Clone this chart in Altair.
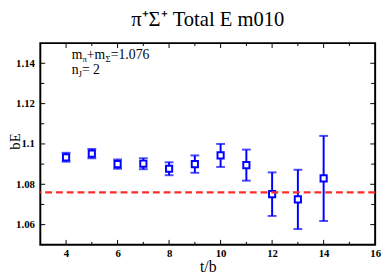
import altair as alt
import pandas as pd

# ---- data ----
t_vals = [4, 5, 6, 7, 8, 9, 10, 11, 12, 13, 14]
bE_vals = [1.0934, 1.0952, 1.0900, 1.0902, 1.0877, 1.0900, 1.0943, 1.0895, 1.0751, 1.0725, 1.0829]
bE_err = [0.0022, 0.0023, 0.0023, 0.0027, 0.0032, 0.0043, 0.0057, 0.0077, 0.0108, 0.0147, 0.0211]
mass_sum = 1.076

x_major = [4, 6, 8, 10, 12, 14]
x_minor = [5, 7, 9, 11, 13, 15]
x_labels = [4, 6, 8, 10, 12, 14, 16]
y_major = [1.06, 1.08, 1.10, 1.12, 1.14]
y_minor = [1.07, 1.09, 1.11, 1.13]

W, H = 342, 206
BLUE = "#0000ff"
SERIF = "Liberation Serif"

df = pd.DataFrame({"t": t_vals, "bE": bE_vals, "err": bE_err})
df["lo"] = df["bE"] - df["err"]
df["hi"] = df["bE"] + df["err"]

xscale = alt.Scale(domain=[3, 16], nice=False, zero=False)
yscale = alt.Scale(domain=[1.05, 1.15], nice=False, zero=False)

xaxis = alt.Axis(values=x_labels, title="t/b", grid=False, ticks=False, domain=False,
                 labelFont=SERIF, labelFontWeight="bold", labelFontSize=11, labelColor="black",
                 labelPadding=3, labelFlush=False, titleFont=SERIF, titleFontWeight="normal",
                 titleFontSize=16, titleColor="black", titlePadding=0)
yaxis = alt.Axis(values=y_major, title="bE", grid=False, ticks=False, domain=False, format=".3~g",
                 labelFont=SERIF, labelFontWeight="bold", labelFontSize=11, labelColor="black",
                 labelPadding=6, labelFlush=False, titleFont=SERIF, titleFontWeight="normal",
                 titleFontSize=15, titleColor="black", titleX=-21, titleY=100,
                 titleBaseline="alphabetic", titleAngle=270, titleAlign="center")

X = lambda f: alt.X(f, scale=xscale, axis=xaxis)
Y = lambda f: alt.Y(f, scale=yscale, axis=yaxis)

base = alt.Chart(df)

err_lines = base.mark_rule(color=BLUE, strokeWidth=2).encode(
    x=X("t:Q"), y=Y("lo:Q"), y2="hi:Q")
cap_lo = base.mark_tick(color=BLUE, thickness=2, size=9, orient="horizontal").encode(
    x=X("t:Q"), y=Y("lo:Q"))
cap_hi = base.mark_tick(color=BLUE, thickness=2, size=9, orient="horizontal").encode(
    x=X("t:Q"), y=Y("hi:Q"))
points = base.mark_point(shape="square", size=40, filled=False, fill="white", fillOpacity=1,
                         stroke=BLUE, strokeWidth=2, opacity=1).encode(
    x=X("t:Q"), y=Y("bE:Q"))

ref_line = alt.Chart(pd.DataFrame({"y": [mass_sum]})).mark_rule(
    color="#ff2a2a", strokeDash=[7, 4], strokeWidth=2.5).encode(y=Y("y:Q"))


def xticks(vals, length, top):
    y0 = 0 if top else H
    y1 = length if top else H - length
    return alt.Chart(pd.DataFrame({"v": vals})).mark_rule(color="black", strokeWidth=1).encode(
        x=X("v:Q"), y=alt.value(y0), y2=alt.value(y1))


def yticks(vals, length, right):
    x0 = W if right else 0
    x1 = W - length if right else length
    return alt.Chart(pd.DataFrame({"v": vals})).mark_rule(color="black", strokeWidth=1).encode(
        y=Y("v:Q"), x=alt.value(x0), x2=alt.value(x1))


ticks = [xticks(x_major, 5, False), xticks(x_minor, 3, False),
         xticks(x_major, 5, True), xticks(x_minor, 3, True),
         yticks(y_major, 5, False), yticks(y_minor, 4, False),
         yticks(y_major, 5, True), yticks(y_minor, 4, True)]

one = pd.DataFrame({"a": [0]})


def txt(s, x, y, size=14, align="left"):
    return alt.Chart(one).mark_text(text=s, font=SERIF, fontSize=size, color="black",
                                    align=align, baseline="alphabetic").encode(
        x=alt.value(x), y=alt.value(y))


labels = [
    txt("π⁺Σ⁺ Total E m010", W / 2, -17, size=21, align="center"),
    txt("m", 32, 16), txt("π", 43, 19, size=9), txt("+m", 47.5, 16),
    txt("Σ", 66.5, 19, size=9), txt("=1.076", 72, 16),
    txt("n", 32, 32), txt("J", 39, 35, size=9), txt(" = 2", 42.5, 32),
]

chart = alt.layer(err_lines, cap_lo, cap_hi, points, ref_line, *ticks, *labels).properties(
    width=W, height=H,
    padding={"left": 33, "top": 33, "right": 7, "bottom": 28},
    autosize=alt.AutoSizeParams(type="none"),
).configure_view(stroke="black", strokeWidth=2)

chart.save("out.html", embed_options={"renderer": "svg", "actions": False})
